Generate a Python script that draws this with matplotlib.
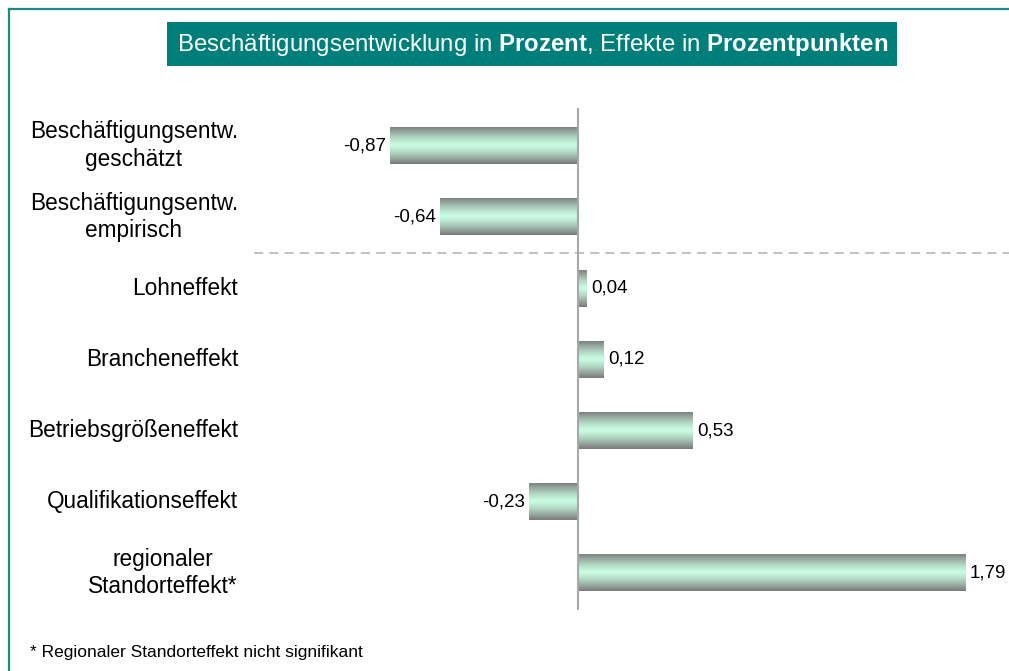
import numpy as np
import matplotlib
matplotlib.use('Agg')
import matplotlib.pyplot as plt
from matplotlib.patches import Rectangle
from matplotlib.lines import Line2D
from matplotlib.transforms import blended_transform_factory

plt.rcParams['font.family'] = ['Liberation Sans', 'DejaVu Sans']
plt.rcParams['mathtext.fontset'] = 'custom'
plt.rcParams['mathtext.rm'] = 'Liberation Sans'
plt.rcParams['mathtext.bf'] = 'Liberation Sans:bold'

# Data
categories = ['Beschäftigungsentw.\ngeschätzt',
              'Beschäftigungsentw.\nempirisch',
              'Lohneffekt',
              'Brancheneffekt',
              'Betriebsgrößeneffekt',
              'Qualifikationseffekt',
              'regionaler\nStandorteffekt*']
values = [-0.87, -0.64, 0.04, 0.12, 0.53, -0.23, 1.79]
value_labels = ['-0,87', '-0,64', '0,04', '0,12', '0,53', '-0,23', '1,79']

TEAL = '#007F7A'
FRAME = '#1B8C84'
GREY = np.array([0x7A, 0x7A, 0x7A]) / 255
MINT = np.array([0xC8, 0xFC, 0xE0]) / 255

fig = plt.figure(figsize=(10.09, 6.71), dpi=100)
ax = fig.add_axes([254 / 1009, 1 - 610 / 671, 757 / 1009, 502 / 671])

y = np.arange(len(categories))
bars = ax.barh(y, values, height=0.52, facecolor='none', edgecolor='none')

# vertical gradient grey -> mint -> grey
t = np.abs(np.linspace(-1, 1, 64)) ** 1.3
grad = (MINT[None, :] * (1 - t[:, None]) + GREY[None, :] * t[:, None])[:, None, :]
for b in bars:
    x0, y0, w, h = b.get_x(), b.get_y(), b.get_width(), b.get_height()
    im = ax.imshow(grad, extent=[x0, x0 + w, y0 + h, y0], aspect='auto',
                   interpolation='bilinear', zorder=2)
    im.set_clip_path(b)

for v, lab, yy in zip(values, value_labels, y):
    if v < 0:
        ax.annotate(lab, (v, yy), xytext=(-3, 0), textcoords='offset points',
                    ha='right', va='center', fontsize=13.5)
    else:
        ax.annotate(lab, (v, yy), xytext=(3, 0), textcoords='offset points',
                    ha='left', va='center', fontsize=13.5)

ax.axvline(0, color='#A8A8A8', lw=1.5, zorder=3)
ax.axhline(1.5, color='#B0B0B0', lw=1.1, ls=(0, (6, 4)), zorder=1)

ax.set_xlim(-1.5, 2.0)
ax.set_ylim(6.52, -0.53)
ax.set_xticks([])
ax.set_yticks([])
for s in ax.spines.values():
    s.set_visible(False)

# category labels, centered lines, right edge at a common position
fig.canvas.draw()
renderer = fig.canvas.get_renderer()
right_px = 238
trans = blended_transform_factory(fig.transFigure, ax.transData)
for lab, yy in zip(categories, y):
    txt = fig.text(0, yy, lab, transform=trans, fontsize=16.3, ha='center',
                   va='center', multialignment='center', linespacing=1.25)
    bb = txt.get_window_extent(renderer)
    txt.set_x((right_px - bb.width / 2) / 1009)

# title box
fig.patches.append(Rectangle((167 / 1009, 1 - 66 / 671), 730 / 1009, 44 / 671,
                             transform=fig.transFigure, facecolor=TEAL,
                             edgecolor='none', zorder=0))
fig.text(533 / 1009, 1 - 45 / 671,
         r'Beschäftigungsentwicklung in $\mathbf{Prozent}$, Effekte in $\mathbf{Prozentpunkten}$',
         color='white', fontsize=17.3, ha='center', va='center')

# frame lines (left and top)
fig.add_artist(Line2D([8.5 / 1009, 8.5 / 1009], [0, 1 - 9 / 671],
                      transform=fig.transFigure, color=FRAME, lw=1.6))
fig.add_artist(Line2D([8.5 / 1009, 1], [1 - 9 / 671, 1 - 9 / 671],
                      transform=fig.transFigure, color=FRAME, lw=1.6))

fig.text(30 / 1009, 1 - 652 / 671, '* Regionaler Standorteffekt nicht signifikant',
         fontsize=12.5, ha='left', va='center')

fig.savefig('out.png', dpi=100)
